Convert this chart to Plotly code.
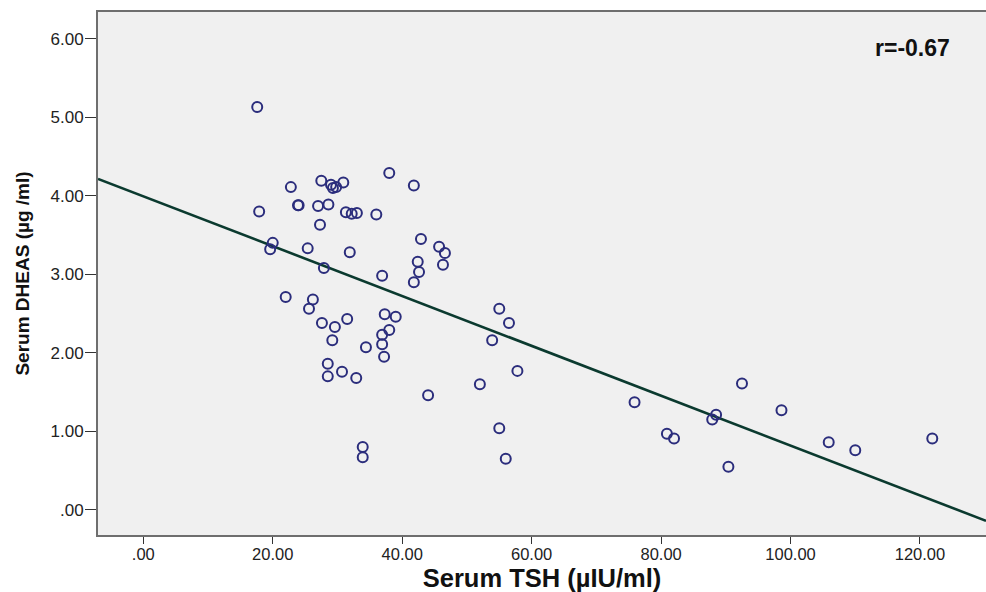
import plotly.graph_objects as go

tsh = [17.6, 17.9, 22.8, 23.9, 27.5, 29.0, 29.3, 29.8, 30.9, 38.0, 41.8,
       24.0, 27.0, 28.6, 31.3, 32.2, 33.0, 36.0, 27.3,
       20.0, 19.6, 25.4, 31.9, 42.9, 45.7, 46.6, 42.4, 46.3, 27.9, 36.9, 42.6, 41.8,
       22.0, 26.2, 25.6, 55.0, 27.6, 29.6, 31.5, 37.3, 39.0, 56.5, 38.0, 36.9, 36.9,
       29.2, 34.4, 37.2, 53.9, 28.5, 28.5, 30.7, 32.9, 57.8, 52.0, 44.0, 33.9, 33.9,
       55.0, 56.0, 75.9, 80.9, 82.0, 87.9, 88.5, 92.5, 90.4, 98.6, 105.9, 110.0, 121.9]
dheas = [5.13, 3.80, 4.11, 3.88, 4.19, 4.14, 4.10, 4.11, 4.17, 4.29, 4.13,
         3.88, 3.87, 3.89, 3.79, 3.77, 3.78, 3.76, 3.63,
         3.40, 3.32, 3.33, 3.28, 3.45, 3.35, 3.27, 3.16, 3.12, 3.08, 2.98, 3.03, 2.90,
         2.71, 2.68, 2.56, 2.56, 2.38, 2.33, 2.43, 2.49, 2.46, 2.38, 2.29, 2.23, 2.11,
         2.16, 2.07, 1.95, 2.16, 1.86, 1.70, 1.76, 1.68, 1.77, 1.60, 1.46, 0.80, 0.67,
         1.04, 0.65, 1.37, 0.97, 0.91, 1.15, 1.21, 1.61, 0.55, 1.27, 0.86, 0.76, 0.91]

fit_intercept = 3.993
fit_slope = -0.03174
r_label = "r=-0.67"

x_tickvals = [0, 20, 40, 60, 80, 100, 120]
x_ticktext = [".00", "20.00", "40.00", "60.00", "80.00", "100.00", "120.00"]
y_tickvals = [0, 1, 2, 3, 4, 5, 6]
y_ticktext = [".00", "1.00", "2.00", "3.00", "4.00", "5.00", "6.00"]

x_range = [-7.0, 130.2]
y_range = [-0.32, 6.34]

fig = go.Figure()
line_x = [x_range[0], x_range[1]]
line_y = [fit_intercept + fit_slope * v for v in line_x]
fig.add_trace(go.Scatter(x=line_x, y=line_y, mode="lines",
                         line=dict(color="#0b3a2f", width=2.6),
                         hoverinfo="skip", showlegend=False))
fig.add_trace(go.Scatter(x=tsh, y=dheas, mode="markers",
                         marker=dict(symbol="circle-open", size=10,
                                     color="#2b2d7c", line=dict(width=2, color="#2b2d7c")),
                         showlegend=False))

fig.add_annotation(x=0.917, y=0.932, xref="paper", yref="paper", text="<b>" + r_label + "</b>",
                   showarrow=False, font=dict(family="Liberation Sans", size=23, color="#111111"),
                   xanchor="center", yanchor="middle")

fig.update_layout(
    width=986, height=592,
    margin=dict(l=98, r=0, t=12, b=57),
    paper_bgcolor="white", plot_bgcolor="#f0f0f0",
    font=dict(family="Liberation Sans", color="#222222"),
    xaxis=dict(range=x_range, tickvals=x_tickvals, ticktext=x_ticktext,
               showgrid=False, zeroline=False, showline=True, mirror=True,
               linecolor="#6e6e6e", linewidth=2, ticks="outside", ticklen=7,
               tickcolor="#333333", tickfont=dict(size=16.5, color="#222222"),
               ticklabelstandoff=-4,
               automargin=False,
               title=dict(text="<b>Serum TSH (µIU/ml)</b>", font=dict(size=25.5, color="#111111"),
                          standoff=15)),
    yaxis=dict(range=y_range, tickvals=y_tickvals, ticktext=y_ticktext,
               showgrid=False, zeroline=False, showline=True, mirror=False,
               linecolor="#6e6e6e", linewidth=2, ticks="outside", ticklen=11,
               tickcolor="#333333", tickfont=dict(size=17, color="#222222"),
               ticklabelstandoff=-2,
               automargin=False,
               title=dict(text="<b>Serum DHEAS (µg /ml)</b>", font=dict(size=19, color="#111111"),
                          standoff=16)),
)

fig.write_html("out.html", post_script="document.body.style.margin='0px';",
               config={"displayModeBar": False})
